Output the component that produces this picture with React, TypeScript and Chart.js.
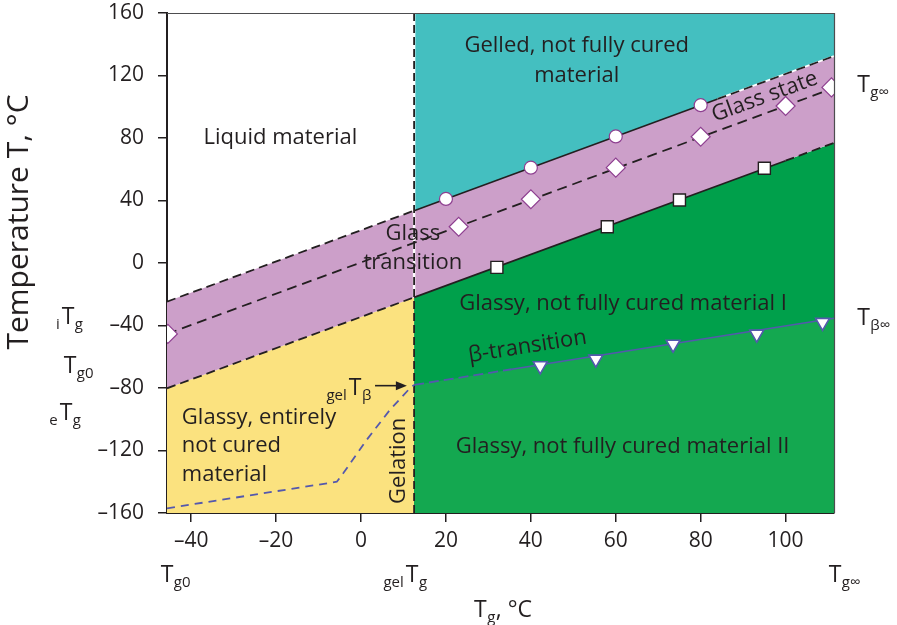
import React, { useEffect, useRef } from 'react';
import { Chart, registerables } from 'chart.js';

Chart.register(...registerables);

// ---------- data ----------
const X_MIN = -45.7;
const X_MAX = 111.4;
const GEL_TG = 12.5;
const Y_MIN = -160;
const Y_MAX = 160;

const xTicks = [-40, -20, 0, 20, 40, 60, 80, 100];
const yTicks = [-160, -120, -80, -40, 0, 40, 80, 120, 160];

// upper boundary of the glass-transition band
const upperLeftX = [-45.7, 12.5];
const upperLeftT = [-24.7, 33.5];
const upperRightX = [12.5, 84];
const upperRightT = [33.5, 105];
const upperTailX = [84, 111.4];
const upperTailT = [105, 132.4];
const upperFullX = [-45.7, 12.5, 111.4];
const upperFullT = [-24.7, 33.5, 132.4];

// middle (Tg) line
const midX = [-45.7, 111.4];
const midT = [-45.4, 112];

// lower boundary of the glass-transition band
const lowerLeftX = [-45.7, 12.5];
const lowerLeftT = [-80.2, -22];
const lowerRightX = [12.5, 100];
const lowerRightT = [-22, 65.5];
const lowerTailX = [100, 111.4];
const lowerTailT = [65.5, 76.9];
const lowerFullX = [-45.7, 12.5, 111.4];
const lowerFullT = [-80.2, -22, 76.9];

// beta transition
const betaLowX = [-45.7, -5.7, -4.2, 1.3, 6.8, 11.5, 12.5];
const betaLowT = [-157, -140, -134.6, -113.3, -94, -80.2, -78];
const betaDashX = [12.5, 35.5];
const betaDashT = [-78, -68];
const betaSolidX = [35.5, 111.4];
const betaSolidT = [-68, -35.4];
const betaFullX = [12.5, 111.4];
const betaFullT = [-78, -35.4];

// gelation line
const gelLineT = [160, -160];
const gelWhiteT = [160, -22];

// markers
const circleX = [20, 40, 60, 80];
const circleT = [41, 61, 81, 101];
const diamondX = [-45.5, 23, 40, 60, 80, 100, 110.8];
const diamondT = [-45.4, 23.2, 40.8, 61, 80.8, 100.5, 112.4];
const squareX = [32, 58, 75, 95];
const squareT = [-2.8, 23.2, 40.3, 60.6];
const triX = [42.2, 55.3, 73.5, 93.2, 108.7];
const triT = [-65.8, -61.5, -52, -45.5, -38];

// ---------- styles ----------
const FONT = '"Open Sans", sans-serif';
const INK = '#231f20';
const TEAL = '#44bfc0';
const PURPLE = '#cc9fc9';
const YELLOW = '#fbe27f';
const GREEN1 = '#00a04b';
const GREEN2 = '#14a850';
const BLUE = '#5458ad';
const MARK_PURPLE = '#8e3f90';

const mk = (xs: number[], ts: number[]) => xs.map((v, i) => ({ x: v, y: ts[i] }));
const vert = (ts: number[]) => ts.map((t) => ({ x: GEL_TG, y: t }));

function drawT(
  ctx: CanvasRenderingContext2D,
  cx: number,
  cy: number,
  pre: string,
  sub: string,
  size = 23,
  subSize = 15
) {
  ctx.save();
  ctx.fillStyle = INK;
  ctx.textBaseline = 'alphabetic';
  ctx.textAlign = 'left';
  ctx.font = `${size}px ${FONT}`;
  const wT = ctx.measureText('T').width;
  const base = cy + size * 0.714 / 2;
  const subBase = base + 5;
  ctx.fillText('T', cx - wT / 2, base);
  ctx.font = `${subSize}px ${FONT}`;
  if (pre) {
    const wp = ctx.measureText(pre).width;
    ctx.fillText(pre, cx - wT / 2 - wp - 2, subBase);
  }
  if (sub) ctx.fillText(sub, cx + wT / 2 + 0.5, subBase);
  ctx.restore();
}

const annotationPlugin = {
  id: 'annotations',
  afterDatasetsDraw(chart: any) {
    const { ctx, chartArea, scales } = chart;
    const xs = scales.x;
    const ys = scales.y;
    const px = (v: number) => xs.getPixelForValue(v);
    const py = (v: number) => ys.getPixelForValue(v);
    ctx.save();

    // top/right frame
    ctx.strokeStyle = '#4d4d4f';
    ctx.lineWidth = 1.2;
    ctx.beginPath();
    ctx.moveTo(chartArea.left, chartArea.top + 0.5);
    ctx.lineTo(chartArea.right + 0.5, chartArea.top + 0.5);
    ctx.lineTo(chartArea.right + 0.5, chartArea.bottom);
    ctx.stroke();

    const text = (s: string, vx: number, vy: number, size = 22, align: CanvasTextAlign = 'center', rot = 0) => {
      ctx.save();
      ctx.fillStyle = INK;
      ctx.font = `${size}px ${FONT}`;
      ctx.textAlign = align;
      ctx.textBaseline = 'middle';
      ctx.translate(px(vx), py(vy));
      ctx.rotate(rot);
      ctx.fillText(s, 0, 0);
      ctx.restore();
    };

    text('Liquid material', -19, 80);
    text('Gelled, not fully cured', 50.8, 139);
    text('material', 50.8, 120);
    text('Glass state', 95.1, 106.4, 22, 'center', -Math.atan2(1.5625, 4.247));
    text('Glass', 12.2, 18.5);
    text('transition', 12.2, 0);
    text('Glassy, not fully cured material I', 61.7, -26.3);
    text('\u03b2-transition', 39.2, -53.5, 22, 'center', -0.157);
    text('Glassy, not fully cured material II', 61.6, -117.8);
    text('Glassy, entirely', -42.2, -98.9, 22, 'left');
    text('not cured', -42.2, -116.9, 22, 'left');
    text('material', -42.2, -135.7, 22, 'left');
    text('Gelation', 8.8, -126.6, 22, 'center', -Math.PI / 2);

    // gel T beta with arrow
    drawT(ctx, px(-1.4), py(-79), 'gel', '\u03b2', 23, 15);
    ctx.strokeStyle = INK;
    ctx.fillStyle = INK;
    ctx.lineWidth = 1.6;
    const ay = py(-78.5);
    const ax0 = px(3.3);
    const ax1 = px(10.8);
    ctx.beginPath();
    ctx.moveTo(ax0, ay);
    ctx.lineTo(ax1 - 8, ay);
    ctx.stroke();
    ctx.beginPath();
    ctx.moveTo(ax1, ay);
    ctx.lineTo(ax1 - 11, ay - 4.5);
    ctx.lineTo(ax1 - 11, ay + 4.5);
    ctx.closePath();
    ctx.fill();

    // right labels
    drawT(ctx, chartArea.right + 29.5, py(115), '', 'g\u221e');
    drawT(ctx, chartArea.right + 29.5, py(-34.6), '', '\u03b2\u221e');

    // left labels
    drawT(ctx, 68, py(-34), 'i', 'g');
    drawT(ctx, 70, py(-65), '', 'g0');
    drawT(ctx, 66, py(-95), 'e', 'g');

    // bottom labels
    drawT(ctx, px(X_MIN), 574, '', 'g0');
    drawT(ctx, px(GEL_TG) - 2, 574, 'gel', 'g');
    drawT(ctx, px(X_MAX) + 1, 574, '', 'g\u221e');

    // x axis title: T_g, °C
    ctx.font = `23px ${FONT}`;
    ctx.textBaseline = 'alphabetic';
    ctx.textAlign = 'left';
    ctx.fillStyle = INK;
    const tx = 474;
    const tb = 617;
    const wT = ctx.measureText('T').width;
    ctx.fillText('T', tx, tb);
    ctx.font = `15px ${FONT}`;
    const wg = ctx.measureText('g').width;
    ctx.fillText('g', tx + wT + 0.5, tb + 5);
    ctx.font = `23px ${FONT}`;
    ctx.fillText(', \u00b0C', tx + wT + wg + 1, tb);

    // y axis title
    ctx.save();
    ctx.translate(28, 222);
    ctx.rotate(-Math.PI / 2);
    ctx.font = `30px ${FONT}`;
    ctx.textAlign = 'center';
    ctx.textBaseline = 'alphabetic';
    ctx.fillText('Temperature T, \u00b0C', 0, 0);
    ctx.restore();

    ctx.restore();
  },
};

export default function App() {
  const ref = useRef<HTMLCanvasElement | null>(null);

  useEffect(() => {
    if (!ref.current) return;
    Chart.defaults.font.family = FONT;
    const line = (data: any[], color: string, width: number, dash: number[] = []) => ({
      data,
      borderColor: color,
      borderWidth: width,
      borderDash: dash,
      pointRadius: 0,
      fill: false,
      tension: 0,
    });
    const area = (data: any[], color: string, fill: any) => ({
      data,
      borderWidth: 0,
      borderColor: 'transparent',
      backgroundColor: color,
      pointRadius: 0,
      fill,
      tension: 0,
    });
    const marks = (data: any[], style: string, radius: number, border: string, bw: number, rotation = 0) => ({
      data,
      showLine: false,
      pointStyle: style,
      pointRadius: radius,
      pointRotation: rotation,
      pointBackgroundColor: '#ffffff',
      pointBorderColor: border,
      pointBorderWidth: bw,
      fill: false,
    });

    const datasets: any[] = [
      area(mk(upperFullX.slice(1), upperFullT.slice(1)), TEAL, 'end'), // 0
      area(mk(lowerLeftX, lowerLeftT), YELLOW, 'start'), // 1
      area(mk(lowerFullX.slice(1), lowerFullT.slice(1)), GREEN1, 'start'), // 2
      area(mk(betaFullX, betaFullT), GREEN2, 'start'), // 3
      area(mk(lowerFullX, lowerFullT), 'transparent', false), // 4
      area(mk(upperFullX, upperFullT), PURPLE, 4), // 5
      line(vert(gelWhiteT), '#ffffff', 2.5), // 6
      line(vert(gelLineT), INK, 1.8, [8, 4]), // 7
      line(mk(upperLeftX, upperLeftT), INK, 1.8, [9, 5]), // 8
      line(mk(upperRightX, upperRightT), INK, 1.6), // 9
      line(mk(upperTailX, upperTailT), '#ffffff', 1.8), // 10
      line(mk(upperTailX, upperTailT), INK, 1.8, [9, 5]), // 11
      line(mk(midX, midT), INK, 1.8, [10, 6]), // 12
      line(mk(lowerLeftX, lowerLeftT), INK, 1.8, [9, 5]), // 13
      line(mk(lowerRightX, lowerRightT), INK, 1.6), // 14
      line(mk(lowerTailX, lowerTailT), INK, 1.8, [9, 5]), // 15
      line(mk(betaLowX, betaLowT), BLUE, 1.8, [8, 6]), // 16
      line(mk(betaDashX, betaDashT), BLUE, 1.8, [10, 5]), // 17
      line(mk(betaSolidX, betaSolidT), BLUE, 1.6), // 18
      marks(mk(circleX, circleT), 'circle', 6.5, MARK_PURPLE, 1.2), // 19
      marks(mk(diamondX, diamondT), 'rectRot', 9.5, MARK_PURPLE, 1.2), // 20
      marks(mk(squareX, squareT), 'rect', 8.5, INK, 1.4), // 21
      marks(mk(triX, triT), 'triangle', 8, BLUE, 1.6, 180), // 22
    ];
    datasets.forEach((d, i) => {
      d.order = 100 - i;
    });

    const fmt = (v: any) => String(v).replace('-', '\u2013');

    const chart = new Chart(ref.current, {
      type: 'line',
      data: { datasets },
      options: {
        animation: false,
        responsive: false,
        maintainAspectRatio: false,
        layout: { padding: { left: 0, top: 13, right: 63, bottom: 0 } },
        plugins: {
          legend: { display: false },
          tooltip: { enabled: false },
          filler: { propagate: false },
        },
        scales: {
          x: {
            type: 'linear',
            min: X_MIN,
            max: X_MAX,
            afterBuildTicks: (s: any) => {
              s.ticks = xTicks.map((v) => ({ value: v }));
            },
            afterFit: (s: any) => {
              s.height = 112;
              s.paddingLeft = 0;
              s.paddingRight = 0;
              s.paddingTop = 0;
              s.paddingBottom = 0;
            },
            grid: { display: true, drawOnChartArea: false, drawTicks: true, tickLength: 9, color: INK, lineWidth: 1.5 },
            border: { display: true, color: INK, width: 2 },
            ticks: { color: INK, font: { size: 21, family: FONT }, padding: 6, maxRotation: 0, autoSkip: false, callback: fmt },
          },
          y: {
            type: 'linear',
            min: Y_MIN,
            max: Y_MAX,
            afterBuildTicks: (s: any) => {
              s.ticks = yTicks.map((v) => ({ value: v }));
            },
            afterFit: (s: any) => {
              s.width = 167;
              s.paddingLeft = 0;
              s.paddingRight = 0;
              s.paddingTop = 0;
              s.paddingBottom = 0;
            },
            grid: { display: true, drawOnChartArea: false, drawTicks: true, tickLength: 9, color: INK, lineWidth: 1.5 },
            border: { display: true, color: INK, width: 2 },
            ticks: { color: INK, font: { size: 21, family: FONT }, padding: 14, autoSkip: false, callback: fmt },
          },
        },
      },
      plugins: [annotationPlugin],
    } as any);
    return () => chart.destroy();
  }, []);

  return (
    <div style={{ position: 'absolute', left: 0, top: 0, width: 897, height: 625, background: '#ffffff' }}>
      <canvas ref={ref} width={897} height={625} style={{ display: 'block' }} />
    </div>
  );
}
